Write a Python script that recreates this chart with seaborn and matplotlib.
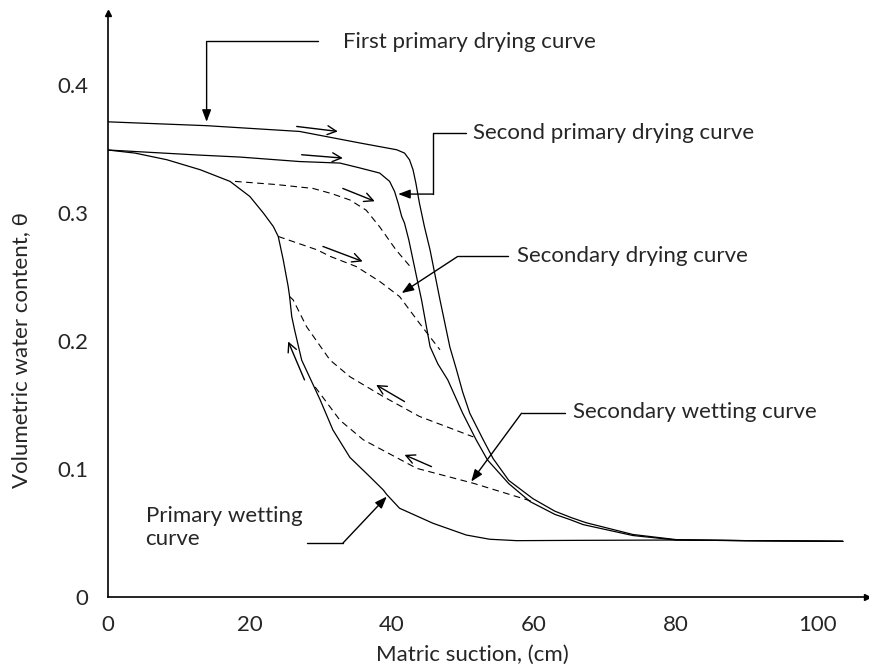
import matplotlib
matplotlib.use("Agg")
import matplotlib.pyplot as plt
import seaborn as sns

# matric suction (cm) / volumetric water content
first_dry_x = [0, 13.9, 27, 35.5, 40.7, 41.8, 42.5, 43.0, 43.4, 43.9, 44.6, 45.4, 46.8, 48.2,
               49.1, 50.0, 51.0, 52.9, 54.3, 56.5, 59.9, 63, 65.4, 67.4, 74, 80.1, 90, 103.6]
first_dry_y = [0.371, 0.368, 0.3635, 0.3545, 0.3492, 0.3466, 0.3414, 0.3336, 0.3232, 0.3076,
               0.2893, 0.271, 0.232, 0.195, 0.178, 0.160, 0.1435, 0.1227, 0.108, 0.091, 0.0768,
               0.067, 0.0618, 0.058, 0.0488, 0.0448, 0.0440, 0.0435]

second_dry_x = [0, 13, 18.6, 27, 32.7, 35.5, 38.3, 39.7, 40.4, 40.9, 41.4, 41.8, 42.4, 43.5,
                44.2, 45.4, 46.5, 47.9, 50.0, 51.9, 53.5, 56.5, 59.5, 63, 65.1, 67, 74, 80.1,
                90, 103.6]
second_dry_y = [0.349, 0.345, 0.3435, 0.340, 0.3388, 0.335, 0.331, 0.3245, 0.3166, 0.3076,
                0.2971, 0.2919, 0.2789, 0.250, 0.232, 0.1955, 0.182, 0.1695, 0.1435, 0.1227,
                0.107, 0.0885, 0.0745, 0.0645, 0.0605, 0.0565, 0.048, 0.0445, 0.044, 0.0435]

wet_x = [0, 3.8, 8.3, 13, 17.2, 20, 21.9, 23.3, 24.0, 24.7, 25.4, 25.6, 25.9, 26.3, 27.3,
         29.9, 31.7, 34.1, 36.9, 38.8, 39.3, 41.1, 45.8, 50.5, 53.8, 57.6, 65, 80, 90, 103.6]
wet_y = [0.349, 0.3466, 0.3414, 0.3336, 0.3245, 0.3127, 0.2998, 0.2893, 0.2815, 0.2633, 0.2424,
         0.2346, 0.219, 0.2086, 0.185, 0.154, 0.1305, 0.109, 0.094, 0.0836, 0.080, 0.0693,
         0.0576, 0.0484, 0.0451, 0.044, 0.0442, 0.0445, 0.044, 0.0435]

sec_dry1_x = [17.9, 23.8, 28.9, 31.5, 34.1, 36.4, 38.3, 40.6, 42.6]
sec_dry1_y = [0.3245, 0.322, 0.319, 0.315, 0.310, 0.302, 0.289, 0.271, 0.258]

sec_dry2_x = [24.0, 29.5, 31.3, 35.0, 38.3, 41.1, 43.9, 46.8]
sec_dry2_y = [0.2815, 0.271, 0.266, 0.258, 0.2464, 0.2346, 0.2138, 0.193]

sec_wet1_x = [25.6, 26.1, 28, 31.3, 34.1, 38.8, 43.9, 51.5]
sec_wet1_y = [0.2346, 0.232, 0.211, 0.185, 0.172, 0.1565, 0.141, 0.125]

sec_wet2_x = [29.2, 32.7, 36.0, 43.5, 51.5, 59.9]
sec_wet2_y = [0.164, 0.138, 0.1227, 0.1005, 0.0888, 0.0745]

x_major = [0, 20, 40, 60, 80, 100]
x_minor = [10, 30, 50, 70, 90]
y_ticks = [0, 0.1, 0.2, 0.3, 0.4]
y_labels = ["0", "0.1", "0.2", "0.3", "0.4"]

sns.set_style("white")
plt.rcParams["font.family"] = ["Lato", "DejaVu Sans"]
plt.rcParams["font.size"] = 16

fig = plt.figure(figsize=(8.69, 6.72), dpi=100)
ax = fig.add_axes([0.1243, 0.1116, 0.8734, 0.8691])

solid = dict(color="black", lw=0.9, sort=False, estimator=None, ax=ax)
dashed = dict(color="black", lw=0.8, sort=False, estimator=None, ax=ax, linestyle=(0, (6, 4)))

sns.lineplot(x=first_dry_x, y=first_dry_y, **solid)
sns.lineplot(x=second_dry_x, y=second_dry_y, **solid)
sns.lineplot(x=wet_x, y=wet_y, **solid)
sns.lineplot(x=sec_dry1_x, y=sec_dry1_y, **dashed)
sns.lineplot(x=sec_dry2_x, y=sec_dry2_y, **dashed)
sns.lineplot(x=sec_wet1_x, y=sec_wet1_y, **dashed)
sns.lineplot(x=sec_wet2_x, y=sec_wet2_y, **dashed)

# direction arrows along the curves
open_arrow = dict(arrowstyle="->", color="black", lw=1, shrinkA=0, shrinkB=0)
for tail, head in [((26.6, 0.3674), (32.4, 0.3635)),
                   ((27.3, 0.3453), (33.1, 0.3427)),
                   ((33.1, 0.319), (37.6, 0.309)),
                   ((30.3, 0.2737), (35.9, 0.262)),
                   ((27.7, 0.1695), (25.4, 0.1995)),
                   ((41.8, 0.1526), (37.8, 0.1656)),
                   ((45.6, 0.1018), (41.8, 0.111))]:
    ax.annotate("", xy=head, xytext=tail, arrowprops=open_arrow)


def leader(points):
    xs, ys = zip(*points)
    ax.plot(xs[:-1], ys[:-1], color="black", lw=1)
    ax.annotate("", xy=points[-1], xytext=points[-2],
                arrowprops=dict(arrowstyle="-|>,head_length=0.45,head_width=0.17",
                                color="black", lw=1, shrinkA=0, shrinkB=0))


ax.text(33.1, 0.4336, "First primary drying curve", va="center", ha="left")
leader([(29.6, 0.4338), (13.9, 0.4338), (13.9, 0.371)])

ax.text(51.5, 0.3623, "Second primary drying curve", va="center", ha="left")
leader([(50.5, 0.3623), (45.8, 0.3623), (45.8, 0.3146), (40.9, 0.3146)])

ax.text(57.6, 0.2659, "Secondary drying curve", va="center", ha="left")
leader([(56.4, 0.2659), (49.3, 0.2659), (41.4, 0.2373)])

ax.text(65.5, 0.1443, "Secondary wetting curve", va="center", ha="left")
leader([(64.4, 0.1435), (58.3, 0.1435), (51.2, 0.0901)])

ax.text(5.3, 0.0543, "Primary wetting\ncurve", va="center", ha="left", linespacing=1.2)
leader([(28.0, 0.042), (33.1, 0.042), (39.3, 0.0784)])

ax.set_xlim(0, 107)
ax.set_ylim(0, 0.456)
ax.set_xticks(x_major)
ax.set_xticks(x_minor, minor=True)
ax.set_yticks(y_ticks, y_labels)
ax.tick_params(axis="both", which="both", direction="in", length=8.5, width=1, color="black",
               labelsize=16)
ax.tick_params(axis="x", which="both", pad=13)
ax.tick_params(axis="y", which="both", pad=14)

for side in ["top", "right"]:
    ax.spines[side].set_visible(False)
for side in ["left", "bottom"]:
    ax.spines[side].set_linewidth(1.2)
    ax.spines[side].set_color("black")
ax.plot(1, 0, ">k", markersize=5, transform=ax.get_yaxis_transform(), clip_on=False)
ax.plot(0, 1, "^k", markersize=5, transform=ax.get_xaxis_transform(), clip_on=False)

ax.set_xlabel("Matric suction, (cm)", fontsize=16)
ax.set_ylabel("Volumetric water content, θ", fontsize=16)
ax.xaxis.set_label_coords(0.48, -0.082)
ax.yaxis.set_label_coords(-0.101, 0.423)

fig.savefig("out.png", dpi=100)
